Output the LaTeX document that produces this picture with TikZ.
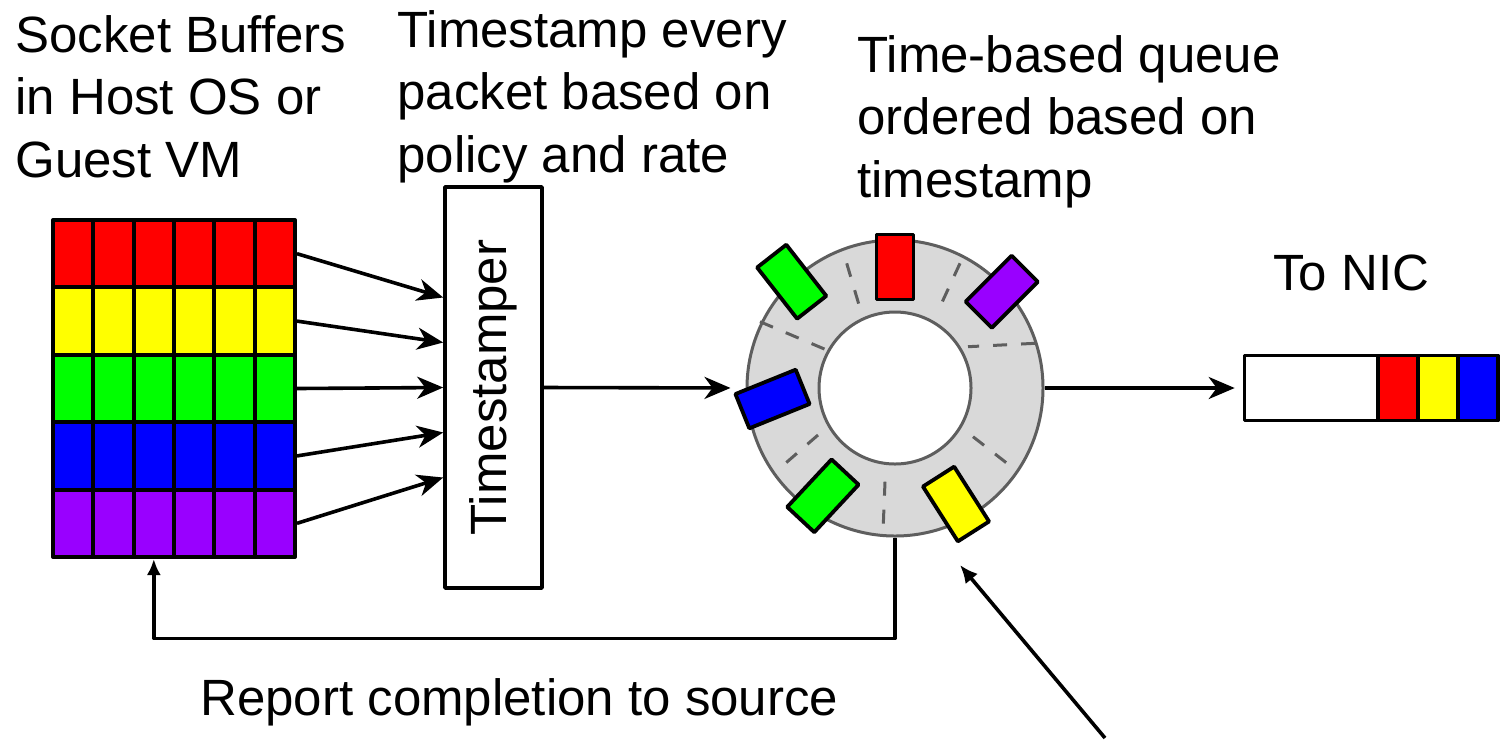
\documentclass[tikz,border=0pt]{standalone}
\usepackage{fontspec}
\usepackage{graphicx}
\setmainfont{Liberation Sans}
\usetikzlibrary{arrows.meta}
\definecolor{pktred}{HTML}{FF0000}
\definecolor{pktyellow}{HTML}{FFFF00}
\definecolor{pktgreen}{HTML}{00FF00}
\definecolor{pktblue}{HTML}{0000FF}
\definecolor{pktpurple}{HTML}{9900FF}
\definecolor{ringgray}{HTML}{D9D9D9}
\definecolor{edgegray}{HTML}{5E5E5E}
\begin{document}
\begin{tikzpicture}[x=0.5pt, y=-0.5pt, line join=round, >={Stealth[length=13pt,width=11pt,inset=4pt]},
		font=\fontsize{25.5}{31.25}\selectfont,
		lbl/.style={anchor=base west, inner sep=0pt, align=left},
		cell/.style={draw, line width=2pt, minimum width=20.2pt, minimum height=33.7pt, inner sep=0pt},
		pkt/.style={draw, line width=1.9pt, minimum width=18.5pt, minimum height=32.5pt, inner sep=0pt},
		sep/.style={draw=edgegray, line width=1.5pt, dash pattern=on 7pt off 7pt},
		wire/.style={line width=1.8pt}]
	\useasboundingbox (0,0) rectangle (1503,741);
	% socket buffers
	\foreach \col [count=\r] in {pktred,pktyellow,pktgreen,pktblue,pktpurple}
		\foreach \c in {1,...,6}
			\node[cell, fill=\col] (cell-\r-\c) at ({53+40.33*(\c-0.5)},{220+67.4*(\r-0.5)}) {};
	\node[lbl] (srclbl) at (15,177) {Socket Buffers\\in Host OS or\\Guest VM};
	% timestamper
	\node[draw, wire, minimum width=48.5pt, minimum height=200.5pt, inner sep=0pt] (stamper) at (493.5,387.5) {\rotatebox{90}{Timestamper}};
	\node[lbl] (tslbl) at (397,172) {Timestamp every\\packet based on\\policy and rate};
	\foreach \r in {1,...,5}
		\draw[wire,->] (cell-\r-6.east) -- ([yshift={(3-\r)*22.5pt}]stamper.west);
	% time-based queue
	\node[circle, draw=edgegray, fill=ringgray, line width=1.5pt, minimum size=148pt, inner sep=0pt] (ring) at (895,388) {};
	\node[circle, draw=edgegray, fill=white, line width=1.5pt, minimum size=76pt, inner sep=0pt] (hole) at (ring.center) {};
	\foreach \xa/\ya/\xb/\yb in {846.7/263.3/860/308.3, 960/263.3/940/306.7, 760/321.7/826.7/350,
			1035/343.3/968/346.7, 818/435/780/468, 885/481.7/883/531.7, 973/436.7/1013/468}
		\draw[sep] (\xa,\ya) -- (\xb,\yb);
	\node[pkt, fill=pktred] (q-red) at (895,267) {};
	\node[pkt, fill=pktpurple, rotate=-45] (q-purple) at (1001.7,291.7) {};
	\node[pkt, fill=pktgreen, rotate=38] (q-green) at (791.7,281.7) {};
	\node[pkt, fill=pktblue, rotate=112] (q-blue) at (772.5,399) {};
	\node[pkt, fill=pktgreen, rotate=-43] (q-green2) at (822.9,495.8) {};
	\node[pkt, fill=pktyellow, rotate=32.5] (q-yellow) at (956,504) {};
	\node[lbl] (qlbl) at (857,197) {Time-based queue\\ordered based on\\timestamp};
	\draw[wire,->,shorten >=7.5pt] (stamper.east) -- (ring.west);
	% to the NIC
	\node[draw, wire, fill=white, minimum width=127pt, minimum height=32.5pt, inner sep=0pt] (nicq) at (1371.5,388) {};
	\foreach \col [count=\i] in {pktred,pktyellow,pktblue}
		\node[draw, wire, fill=\col, minimum width=20pt, minimum height=32.5pt, inner sep=0pt] (nic-\i) at ({1358+40*\i},388) {};
	\node[lbl] (niclbl) at (1273,290) {To NIC};
	\draw[wire,->,shorten >=4pt] (ring.east) -- (nicq.west);
	% completion
	\draw[wire,-{Latex[length=8pt,width=7pt]}] (ring.south) -- ++(0,101) -| (cell-5-3.south);
	\node[lbl] (donelbl) at (200,715) {Report completion to source};
	\coordinate (hint) at (1105,738);
	\coordinate (hinttip) at (960,565);
	\draw[wire,-{Latex[length=9pt,width=8pt]}] (hint) -- (hinttip);
\end{tikzpicture}
\end{document}
